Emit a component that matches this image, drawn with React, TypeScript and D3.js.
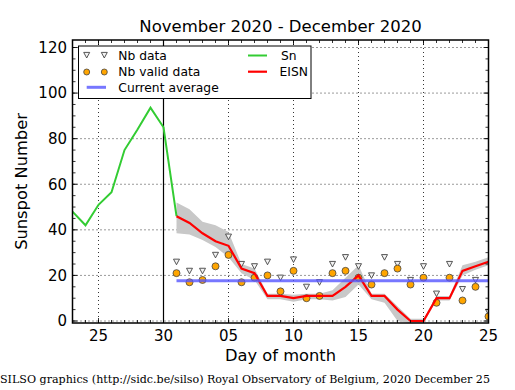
import React from "react";
import * as d3 from "d3";

// data
const snDays = ["2020-11-23", "2020-11-24", "2020-11-25", "2020-11-26", "2020-11-27", "2020-11-28", "2020-11-29", "2020-11-30", "2020-12-01"];
const snValues = [48, 42, 51, 56.5, 75, 84, 93.6, 85, 46];

const decDays = [1, 2, 3, 4, 5, 6, 7, 8, 9, 10, 11, 12, 13, 14, 15, 16, 17, 18, 19, 20, 21, 22, 23, 24, 25];
const eisn = [46, 43, 38.5, 35, 33, 23, 21, 11, 11, 10, 11, 11, 11, 15, 20, 11, 11, 5, 0, 0, 10, 10, 22, 24, 26];
const eisnHigh = [52, 49, 43.5, 42, 39, 25, 23, 12, 12, 11.5, 12, 12, 13.5, 19, 24.5, 12, 12, 6.5, 1, 1, 11, 11, 24.5, 26, 28];
const eisnLow = [38.5, 38, 35.5, 32.5, 28, 21, 18, 9.5, 9.5, 8.5, 9.5, 9.5, 9, 10.5, 16, 9.5, 8, 0, -1, -1, 9, 9, 20, 22.5, 24.5];
const nbData = [26, 22, 22, 29, 37, 25, 24, 26, 19, 27, 15, 17, 25, 28, 24, 20, 28, 25, 18, 24, 12, 25, 14, 18, 4];
const nbValid = [21, 17, 18, 24, 29, 17, 19, 20, 13, 22, 10, 11, 21, 22, 19, 16, 21, 23, 16, 19, 8, 19, 9, 15, 2];
const currentAverage = 17.7;

const xTickDays = ["2020-11-25", "2020-11-30", "2020-12-05", "2020-12-10", "2020-12-15", "2020-12-20", "2020-12-25"];
const yTicks = [0, 20, 40, 60, 80, 100, 120];

const W = 515;
const H = 390;
const box = { left: 72.5, right: 488.5, top: 40, bottom: 323 };
const font = "DejaVu Sans, sans-serif";

const parse = (s: string) => new Date(s + "T00:00:00Z");
const dec = (d: number) => new Date(Date.UTC(2020, 11, d));

export default function App() {
  const x = d3.scaleUtc()
    .domain([parse("2020-11-23"), parse("2020-12-25")])
    .range([box.left, box.right]);
  const y = d3.scaleLinear().domain([0, 120]).range([321, 47.5]);

  const snLine = d3.line<number>()
    .x((_, i) => x(parse(snDays[i])))
    .y(d => y(d));
  const eisnLine = d3.line<number>()
    .x((_, i) => x(dec(decDays[i])))
    .y(d => y(d));
  const band = d3.area<number>()
    .x((_, i) => x(dec(decDays[i])))
    .y0((_, i) => y(eisnLow[i]))
    .y1(d => y(d));

  const majorX = xTickDays.map(parse);
  const minorX = x.ticks(d3.utcDay.every(1)!);
  const minorY = d3.range(0, 125, 5);

  // matplotlib-like "v" marker
  const tri = (cx: number, cy: number) =>
    `M${cx - 3},${cy - 2.6}L${cx + 3},${cy - 2.6}L${cx},${cy + 3}Z`;

  const firstDec = x(dec(decDays[0]));
  const lastDec = x(dec(decDays[decDays.length - 1]));

  return (
    <svg width={W} height={H} style={{ position: "absolute", left: 0, top: 0, background: "#fff" }} fontFamily={font}>
      <defs>
        <clipPath id="plot">
          <rect x={box.left} y={box.top} width={box.right - box.left} height={box.bottom - box.top} />
        </clipPath>
      </defs>

      {/* grid */}
      <g stroke="#000" strokeWidth={0.8} strokeDasharray="1,3">
        {majorX.map((d, i) => (
          <line key={"gx" + i} x1={x(d)} x2={x(d)} y1={box.top} y2={box.bottom} />
        ))}
        {yTicks.map(v => (
          <line key={"gy" + v} x1={box.left} x2={box.right} y1={y(v)} y2={y(v)} />
        ))}
      </g>

      <g clipPath="url(#plot)">
        <path d={band(eisnHigh) || ""} fill="#c8c8c8" />
        <line x1={x(parse("2020-11-30"))} x2={x(parse("2020-11-30"))} y1={box.top} y2={box.bottom} stroke="#000" strokeWidth={1.2} />
        {nbData.map((v, i) => (
          <path key={"t" + i} d={tri(x(dec(decDays[i])), y(v))} fill="#f2f2f2" stroke="#444" strokeWidth={0.9} />
        ))}
        {nbValid.map((v, i) => (
          <circle key={"c" + i} cx={x(dec(decDays[i]))} cy={y(v)} r={3.5} fill="#ffa500" stroke="#444" strokeWidth={0.8} />
        ))}
        <path d={snLine(snValues) || ""} fill="none" stroke="#33cc33" strokeWidth={2} />
        <path d={eisnLine(eisn) || ""} fill="none" stroke="#ff0000" strokeWidth={2.2} />
        <line x1={firstDec} x2={lastDec} y1={y(currentAverage)} y2={y(currentAverage)} stroke="#5555ff" strokeOpacity={0.8} strokeWidth={3} />
      </g>

      {/* ticks */}
      <g stroke="#000" strokeWidth={0.8}>
        {minorX.map((d, i) => (
          <g key={"mx" + i}>
            <line x1={x(d)} x2={x(d)} y1={box.bottom} y2={box.bottom - 3} />
            <line x1={x(d)} x2={x(d)} y1={box.top} y2={box.top + 3} />
          </g>
        ))}
        {majorX.map((d, i) => (
          <g key={"Mx" + i}>
            <line x1={x(d)} x2={x(d)} y1={box.bottom} y2={box.bottom - 5} />
            <line x1={x(d)} x2={x(d)} y1={box.top} y2={box.top + 5} />
          </g>
        ))}
        {minorY.map(v => (
          <g key={"my" + v}>
            <line x1={box.left} x2={box.left + 3} y1={y(v)} y2={y(v)} />
            <line x1={box.right} x2={box.right - 3} y1={y(v)} y2={y(v)} />
          </g>
        ))}
        {yTicks.map(v => (
          <g key={"My" + v}>
            <line x1={box.left} x2={box.left + 5} y1={y(v)} y2={y(v)} />
            <line x1={box.right} x2={box.right - 5} y1={y(v)} y2={y(v)} />
          </g>
        ))}
      </g>

      <rect x={box.left} y={box.top} width={box.right - box.left} height={box.bottom - box.top} fill="none" stroke="#000" strokeWidth={1.5} />

      {/* tick labels */}
      <g fontSize={15} fill="#000">
        {majorX.map((d, i) => (
          <text key={"lx" + i} x={x(d)} y={341} textAnchor="middle">{d3.utcFormat("%d")(d)}</text>
        ))}
        {yTicks.map(v => (
          <text key={"ly" + v} x={67} y={y(v)} dy="0.36em" textAnchor="end">{v}</text>
        ))}
      </g>

      <text x={(box.left + box.right) / 2} y={31.5} textAnchor="middle" fontSize={16.5}>November 2020 - December 2020</text>
      <text x={(box.left + box.right) / 2} y={361} textAnchor="middle" fontSize={16.3}>Day of month</text>
      <text transform={`translate(27,${(box.top + box.bottom) / 2}) rotate(-90)`} textAnchor="middle" fontSize={16.3}>Sunspot Number</text>
      <text x={0} y={383} fontFamily="DejaVu Serif, serif" fontSize={11.1}>SILSO graphics (http://sidc.be/silso) Royal Observatory of Belgium, 2020 December 25</text>

      {/* legend */}
      <g fontSize={12.3}>
        <rect x={78.5} y={46} width={232.5} height={52.5} fill="#fff" stroke="#000" strokeWidth={1} />
        <path d={tri(86.7, 55)} fill="#f2f2f2" stroke="#444" strokeWidth={0.9} />
        <path d={tri(104.3, 55)} fill="#f2f2f2" stroke="#444" strokeWidth={0.9} />
        <text x={118.3} y={59.5}>Nb data</text>
        <circle cx={86.7} cy={72} r={3} fill="#ffa500" stroke="#444" strokeWidth={0.8} />
        <circle cx={104.3} cy={72} r={3} fill="#ffa500" stroke="#444" strokeWidth={0.8} />
        <text x={118.3} y={76}>Nb valid data</text>
        <line x1={86.7} x2={106} y1={87.3} y2={87.3} stroke="#5555ff" strokeOpacity={0.8} strokeWidth={3} />
        <text x={118.3} y={91.5}>Current average</text>
        <line x1={248} x2={267} y1={55.5} y2={55.5} stroke="#33cc33" strokeWidth={2} />
        <text x={281} y={59.5}>Sn</text>
        <line x1={248} x2={267} y1={71.7} y2={71.7} stroke="#ff0000" strokeWidth={2.2} />
        <text x={279.5} y={76}>EISN</text>
      </g>
    </svg>
  );
}
